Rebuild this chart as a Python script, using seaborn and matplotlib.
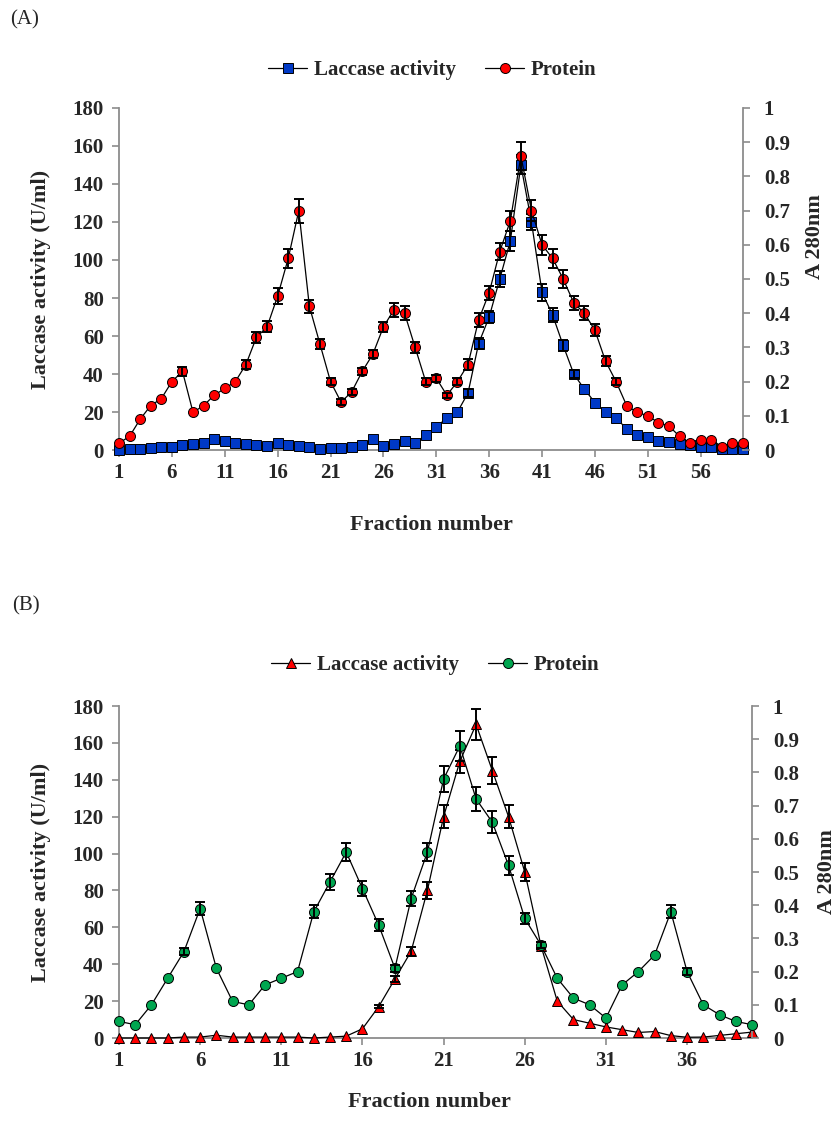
import numpy as np
import pandas as pd
import matplotlib
matplotlib.use("Agg")
import matplotlib.pyplot as plt
from matplotlib.lines import Line2D
import seaborn as sns

# Panel A data
fractions_a = list(range(1, 61))
laccase_a = [0, 0.5, 0.5, 1, 1.5, 1.5, 2.5, 3, 3.5, 6,
             4.5, 3.5, 3, 2.5, 2, 3.5, 2.5, 2, 1.5, 0.5,
             1, 1, 1.5, 2.5, 6, 2, 3, 4.5, 3.5, 8,
             12, 17, 20, 30, 56, 70, 90, 110, 150, 120,
             83, 71, 55, 40, 32, 25, 20, 17, 11, 8,
             7, 5, 4, 3, 2.5, 1.5, 1.5, 0.5, 0.5, 0.5]
laccase_a_err = [0] * 33 + [2, 3, 3.3, 4.4, 5.3, 5, 4, 4.4, 3.5, 3, 2] + [0] * 16
protein_a = [.02, .04, .09, .13, .15, .20, .23, .11, .13, .16,
             .18, .20, .25, .33, .36, .45, .56, .70, .42, .31,
             .20, .14, .17, .23, .28, .36, .41, .40, .30, .20,
             .21, .16, .20, .25, .38, .46, .58, .67, .86, .70,
             .60, .56, .50, .43, .40, .35, .26, .20, .13, .11,
             .10, .08, .07, .04, .02, .03, .03, .01, .02, .02]
protein_a_err = ([0] * 6 + [.013] + [0] * 5 +
                 [.014, .016, .016, .024, .027, .035, .02, .016, .01, .008,
                  .008, .01, .012, .015, .02, .02, .015, .01, .01, .008,
                  .01, .015, .02, .02, .025, .03, .04, .03, .03, .028,
                  .025, .02, .02, .018, .015, .01] + [0] * 12)

# Panel B data
fractions_b = list(range(1, 41))
laccase_b = [0, 0, 0, 0, 0.5, 0.5, 1.5, 0.5, 0.5, 0.5,
             0.5, 0.5, 0, 0.5, 1, 5, 17, 32, 47, 80,
             120, 150, 170, 145, 120, 90, 50, 20, 10, 8,
             6, 4.5, 3, 3.5, 1.3, 0.4, 0.5, 1.4, 2.3, 3.2]
laccase_b_err = [0] * 16 + [1, 1.5, 2.3, 4.5, 6.3, 6.3, 8.6, 7.4, 6.3, 4.7, 2] + [0] * 13
protein_b = [.05, .04, .10, .18, .26, .39, .21, .11, .10, .16,
             .18, .20, .38, .47, .56, .45, .34, .21, .42, .56,
             .78, .88, .72, .65, .52, .36, .28, .18, .12, .10,
             .06, .16, .20, .25, .38, .20, .10, .07, .05, .04]
protein_b_err = ([0] * 4 + [.01, .02] + [0] * 6 +
                 [.02, .023, .028, .023, .018, .01, .022, .028, .039, .045,
                  .035, .033, .028, .016, .01] + [0] * 7 + [.02, .01] + [0] * 4)

left_ticks = list(range(0, 181, 20))
right_ticks = [i / 10 for i in range(11)]
right_labels = ['0', '0.1', '0.2', '0.3', '0.4', '0.5', '0.6', '0.7', '0.8', '0.9', '1']

BLUE = '#0039c6'
RED = '#ff0000'
GREEN = '#00a650'
GRAY = '#8c8c8c'
FS = 15
LFS = 16

sns.set_style("white")
plt.rcParams['font.family'] = ['Liberation Serif', 'DejaVu Serif']
plt.rcParams['font.weight'] = 'bold'


def add_errbars(ax, x, y, err):
    x = np.array(x)
    y = np.array(y)
    err = np.array(err)
    m = err > 0
    ax.errorbar(x[m], y[m], yerr=err[m], fmt='none', ecolor='black',
                elinewidth=1.4, capsize=3.5, capthick=1.4, zorder=4, clip_on=False)


def draw_panel(ax, frac, lac, lac_err, prot, prot_err, lac_marker, lac_color,
               prot_color, lac_ms, xticks, xmax):
    df = pd.DataFrame({'Fraction': frac, 'Laccase': lac, 'Protein': prot})
    sns.lineplot(data=df, x='Fraction', y='Laccase', ax=ax, color='black', lw=0.9,
                 marker=lac_marker, markersize=lac_ms, markerfacecolor=lac_color,
                 markeredgecolor='black', markeredgewidth=0.7, clip_on=False, zorder=3)
    add_errbars(ax, frac, lac, lac_err)
    ax2 = ax.twinx()
    sns.lineplot(data=df, x='Fraction', y='Protein', ax=ax2, color='black', lw=0.9,
                 marker='o', markersize=7.2, markerfacecolor=prot_color,
                 markeredgecolor='black', markeredgewidth=0.7, clip_on=False, zorder=3)
    add_errbars(ax2, frac, prot, prot_err)

    ax.set_xlim(1, xmax)
    ax.set_ylim(0, 180)
    ax2.set_ylim(0, 1)
    ax.set_xticks(xticks)
    ax.set_yticks(left_ticks)
    ax2.set_yticks(right_ticks)
    ax2.set_yticklabels(right_labels)
    for a in (ax, ax2):
        for s in a.spines.values():
            s.set_visible(False)
    for name in ('left', 'bottom'):
        ax.spines[name].set_visible(True)
        ax.spines[name].set_color(GRAY)
        ax.spines[name].set_linewidth(1.3)
    ax2.spines['right'].set_visible(True)
    ax2.spines['right'].set_color(GRAY)
    ax2.spines['right'].set_linewidth(1.3)
    ax.tick_params(axis='y', direction='out', length=5, width=1.2, color=GRAY,
                   labelsize=FS, pad=6, left=True)
    ax.tick_params(axis='x', direction='out', length=5, width=1.2, color=GRAY,
                   labelsize=FS, pad=4, bottom=True)
    ax2.tick_params(axis='y', direction='out', length=5, width=1.2, color=GRAY,
                    labelsize=FS, pad=10, right=True)
    ax.set_xlabel('Fraction number', fontsize=LFS, fontweight='bold')
    ax.set_ylabel('Laccase activity (U/ml)', fontsize=LFS, fontweight='bold')
    ax2.set_ylabel('A 280nm', fontsize=LFS, fontweight='bold')
    ax.grid(False)
    ax2.grid(False)
    return ax2


fig = plt.figure(figsize=(8.37, 11.21), dpi=100)
W, H = 837, 1121

axA = fig.add_axes([119 / W, 1 - 450 / H, 624 / W, 342 / H])
axA2 = draw_panel(axA, fractions_a, laccase_a, laccase_a_err, protein_a, protein_a_err,
                  's', BLUE, RED, 6.8, list(range(1, 57, 5)), 60)
axA.yaxis.set_label_coords(-0.109, 0.5)
axA2.yaxis.set_label_coords(1.099, 0.623)
axA.xaxis.set_label_coords(0.5, -0.19)

axB = fig.add_axes([119 / W, 1 - 1038 / H, 633 / W, 332 / H])
axB2 = draw_panel(axB, fractions_b, laccase_b, laccase_b_err, protein_b, protein_b_err,
                  '^', RED, GREEN, 7.5, list(range(1, 37, 5)), 40)
axB.yaxis.set_label_coords(-0.107, 0.5)
axB2.yaxis.set_label_coords(1.102, 0.5)
axB.xaxis.set_label_coords(0.49, -0.163)

# legends
def legend_handles(lac_marker, lac_color, prot_color, lac_ms):
    h1 = Line2D([], [], color='black', lw=0.9, marker=lac_marker, markersize=lac_ms,
                markerfacecolor=lac_color, markeredgecolor='black', markeredgewidth=0.7)
    h2 = Line2D([], [], color='black', lw=0.9, marker='o', markersize=7.2,
                markerfacecolor=prot_color, markeredgecolor='black', markeredgewidth=0.7)
    return [h1, h2]

fig.legend(legend_handles('s', BLUE, RED, 6.8), ['Laccase activity', 'Protein'],
           loc='center', bbox_to_anchor=(432 / W, 1 - 70 / H), ncol=2, frameon=False,
           fontsize=FS, handlelength=1.9, handletextpad=0.3, columnspacing=1.4)
fig.legend(legend_handles('^', RED, GREEN, 7.5), ['Laccase activity', 'Protein'],
           loc='center', bbox_to_anchor=(435 / W, 1 - 665 / H), ncol=2, frameon=False,
           fontsize=FS, handlelength=1.9, handletextpad=0.3, columnspacing=1.4)

fig.text(10 / W, 1 - 20 / H, '(A)', fontsize=FS, fontweight='normal', va='center', ha='left')
fig.text(12 / W, 1 - 606 / H, '(B)', fontsize=FS, fontweight='normal', va='center', ha='left')

plt.savefig("out.png", dpi=100)
